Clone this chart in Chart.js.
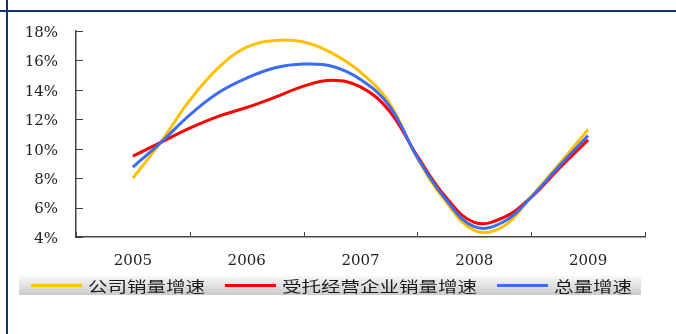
<!DOCTYPE html>
<html>
<head>
<meta charset="utf-8">
<script src="https://cdn.jsdelivr.net/npm/chart.js@4.4.1/dist/chart.umd.min.js"></script>
<style>
  html, body { margin: 0; padding: 0; background: #fff; }
  #wrap { position: relative; width: 676px; height: 334px; overflow: hidden; background: #fff; }
  #c { position: absolute; left: 0; top: 0; }
  .rule-h { position: absolute; left: 0; top: 10px; width: 676px; height: 2px; background: #0d3466; }
  .rule-v { position: absolute; left: 6px; top: 0; width: 2px; height: 334px; background: #0d3466; }
  #legend { position: absolute; left: 19px; top: 276px; width: 622px; height: 19px;
            background: linear-gradient(#f8f8f8, #cbcbcb); }
  .item { position: absolute; top: 0; height: 19px; display: flex; align-items: center; }
  .swatch { width: 51px; height: 3px; }
  .label { margin-left: 6px; font-family: "Noto Sans CJK SC", sans-serif; font-size: 15px;
           color: #1a1a1a; white-space: nowrap; display: inline-block;
           transform: scaleX(1.3); transform-origin: 0 50%; line-height: 19px; }
</style>
</head>
<body>
<div id="wrap">
  <canvas id="c" width="676" height="334"></canvas>
  <div class="rule-h"></div>
  <div class="rule-v"></div>
  <div id="legend"></div>
</div>
<script>
// Year categories along the x axis
const yearLabels = ['2005', '2006', '2007', '2008', '2009'];
// Quarterly sample positions (in years)
const samplePos = [2005.00, 2005.25, 2005.50, 2005.75, 2006.00, 2006.25, 2006.50, 2006.75,
                   2007.00, 2007.25, 2007.50, 2007.75, 2008.00, 2008.25, 2008.50, 2008.75, 2009.00];
// Growth rates, %
const companyGrowth   = [8.0, 10.5, 13.3, 15.5, 16.9, 17.35, 17.25, 16.5, 15.2, 13.15, 9.35, 6.4, 4.45, 4.7, 6.75, 9.0, 11.3];
const entrustedGrowth = [9.5, 10.45, 11.4, 12.2, 12.8, 13.5, 14.25, 14.65, 14.2, 12.6, 9.5, 6.7, 5.0, 5.3, 6.7, 8.7, 10.6];
const totalGrowth     = [8.75, 10.45, 12.3, 13.8, 14.8, 15.5, 15.75, 15.6, 14.7, 12.95, 9.4, 6.55, 4.7, 5.0, 6.7, 8.85, 10.9];
// Y axis tick values, %
const yTicks = [4, 6, 8, 10, 12, 14, 16, 18];

const seriesNames = ['公司销量增速', '受托经营企业销量增速', '总量增速'];
const seriesColors = ['#FFC000', '#FF0000', '#3B6CF4'];
const seriesValues = [companyGrowth, entrustedGrowth, totalGrowth];
const drawOrder = [2, 1, 0]; // blue on top

const AXIS = '#444';

// Short inward tick marks on both axes
const axisMarks = {
  id: 'axisMarks',
  beforeDatasetsDraw(chart) {
    const { ctx, chartArea: a, scales: { x, y } } = chart;
    ctx.save();
    ctx.strokeStyle = AXIS;
    ctx.lineWidth = 1;
    y.ticks.forEach(t => {
      const py = Math.round(y.getPixelForValue(t.value)) + 0.5;
      ctx.beginPath(); ctx.moveTo(a.left, py); ctx.lineTo(a.left + 7, py); ctx.stroke();
    });
    for (let k = 0; k <= yearLabels.length; k++) {
      const px = Math.round(x.getPixelForValue(x.min + k)) + 0.5;
      ctx.beginPath(); ctx.moveTo(px, a.bottom); ctx.lineTo(px, a.bottom - 5); ctx.stroke();
    }
    ctx.restore();
  }
};

const chart = new Chart(document.getElementById('c'), {
  type: 'line',
  data: {
    datasets: seriesNames.map((name, i) => ({
      label: name,
      data: samplePos.map((p, j) => ({ x: p, y: seriesValues[i][j] })),
      borderColor: seriesColors[i],
      backgroundColor: seriesColors[i],
      borderWidth: 3,
      pointRadius: 0,
      tension: 0.4,
      fill: false,
      order: drawOrder[i]
    }))
  },
  options: {
    responsive: false,
    animation: false,
    events: [],
    layout: { padding: { left: 0, right: 31, top: 31, bottom: 60 } },
    plugins: { legend: { display: false }, tooltip: { enabled: false } },
    scales: {
      x: {
        type: 'linear',
        min: 2004.5,
        max: 2009.5,
        afterBuildTicks: s => { s.ticks = yearLabels.map(v => ({ value: Number(v) })); },
        afterFit: s => { s.height = 37; },
        grid: { display: false, drawTicks: false },
        border: { display: true, color: AXIS, width: 1.5 },
        ticks: {
          padding: 15,
          color: '#222',
          font: { family: 'DejaVu Serif', size: 15 },
          maxRotation: 0,
          callback: v => String(v)
        }
      },
      y: {
        min: 4,
        max: 18,
        afterBuildTicks: s => { s.ticks = yTicks.map(v => ({ value: v })); },
        afterFit: s => { s.width = 76; },
        grid: { display: false, drawTicks: false },
        border: { display: true, color: AXIS, width: 1.5 },
        ticks: {
          padding: 18,
          labelOffset: 2,
          color: '#222',
          font: { family: 'DejaVu Serif', size: 15 },
          callback: v => v + '%'
        }
      }
    }
  },
  plugins: [axisMarks]
});

// Legend strip built from the chart's datasets
const legendBox = document.getElementById('legend');
let left = 12;
chart.data.datasets.forEach(ds => {
  const item = document.createElement('div');
  item.className = 'item';
  item.style.left = left + 'px';
  const sw = document.createElement('span');
  sw.className = 'swatch';
  sw.style.background = ds.borderColor;
  const lab = document.createElement('span');
  lab.className = 'label';
  lab.textContent = ds.label;
  item.appendChild(sw);
  item.appendChild(lab);
  legendBox.appendChild(item);
  const w = 51 + 6 + lab.getBoundingClientRect().width;
  left += w + 20;
});
</script>
</body>
</html>
